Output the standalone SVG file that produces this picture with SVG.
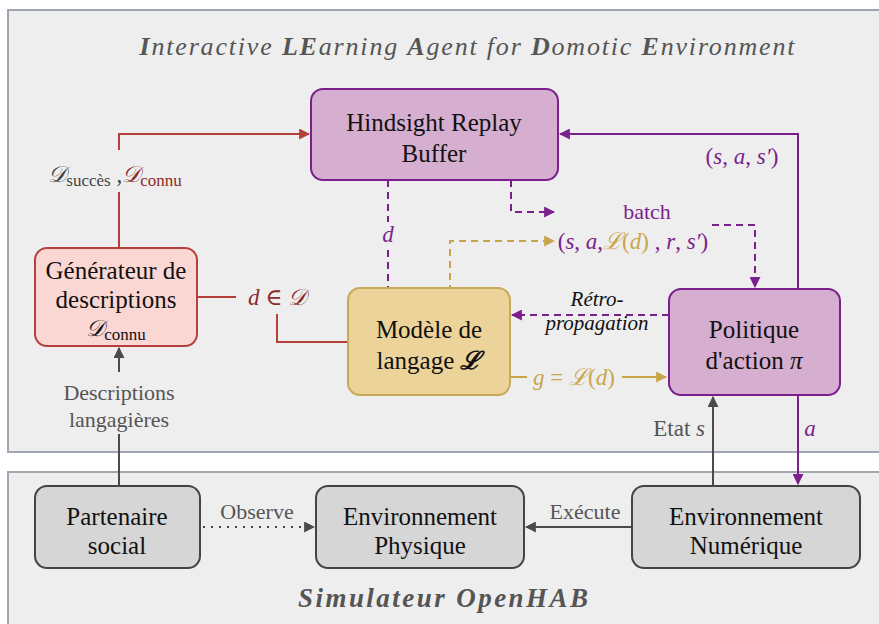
<svg xmlns="http://www.w3.org/2000/svg" width="879" height="624" viewBox="0 0 879 624" font-family="'Liberation Serif', 'Times New Roman', 'DejaVu Serif', serif">
<defs>
<style>
text{font-family:'Liberation Serif','Times New Roman','DejaVu Serif',serif;font-size:23px;text-anchor:middle;fill:#111}
.n{font-size:25px}
.frame{fill:#eeeeee;stroke:#a0a6b0;stroke-width:2}
.purple{fill:#d5aed0;stroke:#7a1f8c;stroke-width:2}
.red{fill:#fbd7d4;stroke:#b5403a;stroke-width:2}
.gold{fill:#ecd39a;stroke:#c8a85a;stroke-width:2}
.grey{fill:#d6d6d6;stroke:#444;stroke-width:2}
.lr{fill:none;stroke:#b5403a;stroke-width:2}
.lp{fill:none;stroke:#7a1f8c;stroke-width:2}
.lg{fill:none;stroke:#c9a54a;stroke-width:2}
.lk{fill:none;stroke:#4a4a4a;stroke-width:2}
.dash{stroke-dasharray:7,5}
.dot{stroke-dasharray:2,6}
.m{font-style:italic}
.lab{font-size:22px}
</style>
<marker id="ar" viewBox="0 0 10 10" refX="9" refY="5" markerWidth="5.5" markerHeight="5.5" orient="auto"><path d="M0,0 L10,5 L0,10 z" fill="#b5403a"/></marker>
<marker id="ap" viewBox="0 0 10 10" refX="9" refY="5" markerWidth="5.5" markerHeight="5.5" orient="auto"><path d="M0,0 L10,5 L0,10 z" fill="#7a1f8c"/></marker>
<marker id="ag" viewBox="0 0 10 10" refX="9" refY="5" markerWidth="5.5" markerHeight="5.5" orient="auto"><path d="M0,0 L10,5 L0,10 z" fill="#c9a54a"/></marker>
<marker id="ak" viewBox="0 0 10 10" refX="9" refY="5" markerWidth="5.5" markerHeight="5.5" orient="auto"><path d="M0,0 L10,5 L0,10 z" fill="#4a4a4a"/></marker>
</defs>
<rect x="0" y="0" width="879" height="624" fill="#ffffff"/>
<rect class="frame" x="8" y="10" width="880" height="442"/>
<rect class="frame" x="8" y="472" width="880" height="160"/>
<text x="467" y="55" textLength="655" lengthAdjust="spacing" style="font-style:italic;fill:#555;font-size:26px"><tspan font-weight="bold">I</tspan>nteractive <tspan font-weight="bold">LE</tspan>arning <tspan font-weight="bold">A</tspan>gent for <tspan font-weight="bold">D</tspan>omotic <tspan font-weight="bold">E</tspan>nvironment</text>
<text x="443" y="607" textLength="290" lengthAdjust="spacing" style="font-style:italic;font-weight:bold;fill:#555;font-size:27px">Simulateur OpenHAB</text>

<g id="connectors">
<path class="lr" d="M119,248 V192 M119,150 V134 H309" marker-end="url(#ar)"/>
<path class="lr" d="M197,297 H236 M277,314 V342 H348"/>
<path class="lg" d="M348,342 H369 V377 H527 M622,377 H666" marker-end="url(#ag)"/>
<path class="lp dash" d="M388,180 V222 M388,250 V293"/>
<path class="lg dash" d="M388,302 H450 V241 H554" marker-end="url(#ag)"/>
<path class="lp dash" d="M511,180 V212 H554" marker-end="url(#ap)"/>
<path class="lp dash" d="M712,225 H755 V287" marker-end="url(#ap)"/>
<path class="lp dash" d="M669,315 H512" marker-end="url(#ap)"/>
<path class="lp" d="M798,289 V134 H560" marker-end="url(#ap)"/>
<path class="lp" d="M798,395 V484" marker-end="url(#ap)"/>
<path class="lk" d="M713,486 V397" marker-end="url(#ak)"/>
<path class="lk" d="M119,486 V434 M119,372 V348" marker-end="url(#ak)"/>
<path class="lk dot" d="M203,527 H314" marker-end="url(#ak)"/>
<path class="lk" d="M632,527 H526" marker-end="url(#ak)"/>
<text x="115" y="182" style="fill:#444"><tspan class="m">𝒟</tspan><tspan font-size="17" dy="4">succès</tspan><tspan dy="-4"> ,</tspan><tspan class="m" style="fill:#8b2a2a">𝒟</tspan><tspan font-size="17" dy="4" style="fill:#8b2a2a">connu</tspan></text>
<text x="277" y="305" class="m" style="fill:#8b2a2a">d ∈ 𝒟</text>
<text x="388" y="242" class="m" style="fill:#7a1f8c">d</text>
<text x="647" y="219" class="lab" style="fill:#7a1f8c">batch</text>
<text x="633" y="249" style="fill:#7a1f8c">(<tspan class="m">s</tspan>, <tspan class="m">a</tspan>,<tspan class="m" style="fill:#c9a54a">ℒ</tspan><tspan style="fill:#c9a54a">(<tspan class="m">d</tspan>)</tspan> , <tspan class="m">r</tspan>, <tspan class="m">s′</tspan>)</text>
<text x="742" y="164" style="fill:#7a1f8c">(<tspan class="m">s</tspan>, <tspan class="m">a</tspan>, <tspan class="m">s′</tspan>)</text>
<text x="597" y="306" class="m" style="fill:#111;font-size:21px">Rétro-</text>
<text x="597" y="330" class="m" style="fill:#111;font-size:21px">propagation</text>
<text x="574" y="385" style="fill:#c9a54a"><tspan class="m">g</tspan> = <tspan class="m">ℒ</tspan>(<tspan class="m">d</tspan>)</text>
<text x="810" y="436" class="m" style="fill:#7a1f8c">a</text>
<text x="705" y="436" style="fill:#555;text-anchor:end">Etat <tspan class="m">s</tspan></text>
<text x="119" y="400" class="lab" style="fill:#555">Descriptions</text>
<text x="119" y="427" class="lab" style="fill:#555">langagières</text>
<text x="257" y="519" class="lab" style="fill:#555">Observe</text>
<text x="585" y="519" class="lab" style="fill:#555">Exécute</text>
</g>

<g id="hrb"><rect class="purple" x="311" y="89" width="247" height="91" rx="12"/><text class="n" x="434" y="131">Hindsight Replay</text><text class="n" x="434" y="162">Buffer</text></g>
<g id="generateur"><rect class="red" x="35" y="248" width="162" height="98" rx="12"/><text class="n" x="116" y="279">Générateur de</text><text class="n" x="116" y="308">descriptions</text><text x="116" y="336"><tspan class="m">𝒟</tspan><tspan font-size="17" dy="4">connu</tspan></text></g>
<g id="modele"><rect class="gold" x="348" y="288" width="162" height="107" rx="12"/><text class="n" x="429" y="338">Modèle de</text><text class="n" x="429" y="369">langage <tspan class="m" font-weight="bold">ℒ</tspan></text></g>
<g id="politique"><rect class="purple" x="669" y="289" width="171" height="106" rx="12"/><text class="n" x="754" y="338">Politique</text><text class="n" x="754" y="369">d'action <tspan class="m">π</tspan></text></g>
<g id="partenaire"><rect class="grey" x="35" y="486" width="165" height="82" rx="12"/><text class="n" x="117" y="525">Partenaire</text><text class="n" x="117" y="554">social</text></g>
<g id="envphys"><rect class="grey" x="316" y="486" width="208" height="82" rx="12"/><text class="n" x="420" y="525">Environnement</text><text class="n" x="420" y="554">Physique</text></g>
<g id="envnum"><rect class="grey" x="632" y="486" width="228" height="82" rx="12"/><text class="n" x="746" y="525">Environnement</text><text class="n" x="746" y="554">Numérique</text></g>
</svg>
